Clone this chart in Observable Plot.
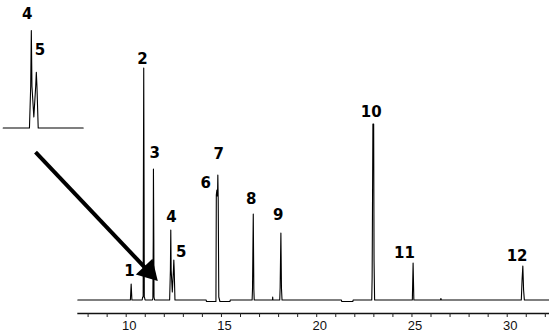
<!DOCTYPE html>
<html><head><meta charset="utf-8">
<script src="https://cdn.jsdelivr.net/npm/d3@7"></script>
<script src="https://cdn.jsdelivr.net/npm/@observablehq/plot@0.6"></script>
<style>
body{margin:0;background:#fff}
#wrap{position:relative;width:549px;height:335px;overflow:hidden;background:#fff}
#wrap svg{position:absolute;left:0;top:0}
</style></head><body><div id="wrap"></div>
<script>
// Chromatogram trace: retention time (min) and signal (arbitrary units)
const traceT = [7.46, 10.22, 10.26, 10.30, 10.84, 10.86, 10.89, 10.90, 10.92, 10.94, 10.95, 10.97, 10.99,
  11.38, 11.40, 11.42, 11.43, 11.45, 11.46, 11.49, 12.28, 12.32, 12.34, 12.36, 12.42, 12.48, 12.50, 12.52, 12.56,
  14.20, 14.21, 14.71, 14.73, 14.76, 14.78, 14.80, 14.81, 14.83, 14.86, 14.92, 15.45, 15.46,
  16.61, 16.63, 16.67, 16.70, 16.72, 17.68, 17.69, 17.70,
  18.06, 18.08, 18.12, 18.15, 18.18, 21.30, 21.31, 21.90, 21.91,
  22.89, 22.91, 22.95, 22.99, 23.01, 23.04, 25.02, 25.06, 25.10,
  26.50, 26.52, 26.54, 30.74, 30.78, 30.82, 30.86, 30.90, 32.30];
const traceV = [0, 0, 16, 0, 0, 3, 3, 95, 232, 95, 3, 2, 0,
  0, 2, 60, 131, 60, 3, 0, 0, 30, 70, 30, 8, 30, 40, 30, 0,
  0, -1.5, -1.5, 105, 110, 104, 112, 125, 100, 3, -1.5, -1.5, 0,
  0, 11, 86, 11, 0, 0, 3, 0,
  0, 12, 67, 12, 0, 0, -1.5, -1.5, 0,
  0, 23, 176, 176, 40, 0, 0, 37, 0,
  0, 1.5, 0, 0, 20, 34, 10, 0, 0];

// Peak numbers and where they are written
const peakLabels = ["1", "2", "3", "4", "5", "6", "7", "8", "9", "10", "11", "12"];
const labelT = [10.17, 10.85, 11.50, 12.38, 12.89, 14.18, 14.86, 16.56, 17.98, 22.86, 24.61, 30.52];
const labelV = [29, 241, 147, 83, 48, 117, 146, 101, 85, 188, 47, 44];

// Axis
const minorTicks = [8, 9, 10, 11, 12, 13, 14, 15, 16, 17, 18, 19, 20, 21, 22, 23, 24, 25, 26, 27, 28, 29, 30, 31, 32];
const tickLabels = [10, 15, 20, 25, 30];
const axisSpan = [7.46, 32.3];
const axisLevel = -13.5;   // signal units below baseline where the axis sits
const tickEnd = -17.5;
const tickLabelLevel = -26;

// Arrow from the inset to peaks 4/5
const arrowFrom = [5.24, 147.8];
const arrowTo = [11.18, 28.5];

// Inset (zoom on peaks 4 and 5)
const insetWindow = [11.44, 14.0];
const insetLabels = ["4", "5"];
const insetLabelT = [12.21, 12.62];
const insetLabelV = [82, 55.6];

const trace = traceT.map((t, i) => ({t, v: traceV[i]}));
const labels = peakLabels.map((s, i) => ({s, t: labelT[i], v: labelV[i]}));

const main = Plot.plot({
  width: 549, height: 335,
  marginLeft: 0, marginRight: 0, marginTop: 0, marginBottom: 0,
  x: {domain: [3.4016, 32.22], range: [0, 549], axis: null},
  y: {domain: [0, 232], range: [299.5, 67.5], axis: null},
  style: {background: "transparent", color: "#000"},
  marks: [
    Plot.ruleY([{y: axisLevel, x1: axisSpan[0], x2: axisSpan[1]}], {y: "y", x1: "x1", x2: "x2", stroke: "#111", strokeWidth: 1.3}),
    Plot.ruleX(minorTicks, {x: d => d, y1: axisLevel, y2: tickEnd, stroke: "#222", strokeWidth: 1}),
    Plot.text(tickLabels, {x: d => d, y: tickLabelLevel, text: d => String(d), dx: 3,
      fontFamily: "'Liberation Sans', Arial, sans-serif", fontSize: 13, fill: "#111"}),
    Plot.line(trace, {x: "t", y: "v", stroke: "#000", strokeWidth: 1.1}),
    Plot.text(labels, {x: "t", y: "v", text: "s", fontFamily: "'DejaVu Sans', sans-serif",
      fontWeight: "bold", fontSize: 15, fill: "#000"}),
    Plot.link([{x1: arrowFrom[0], y1: arrowFrom[1], x2: arrowTo[0], y2: arrowTo[1]}],
      {x1: "x1", y1: "y1", x2: "x2", y2: "y2", stroke: "#000", strokeWidth: 4}),
    Plot.dot([{x: arrowTo[0], y: arrowTo[1]}], {x: "x", y: "y", symbol: "triangle", r: 8.5,
      rotate: 136.5, fill: "#000", stroke: "none"})
  ]
});

const insetTrace = [{t: insetWindow[0], v: 0},
  ...trace.filter(d => d.t > 11.5 && d.t < insetWindow[1]),
  {t: insetWindow[1], v: 0}];
const insetText = insetLabels.map((s, i) => ({s, t: insetLabelT[i], v: insetLabelV[i]}));

const inset = Plot.plot({
  width: 90, height: 135,
  marginLeft: 0, marginRight: 0, marginTop: 0, marginBottom: 0,
  x: {domain: insetWindow, range: [2.7, 82.7], axis: null},
  y: {domain: [0, 70], range: [127.5, 30], axis: null},
  style: {background: "transparent"},
  marks: [
    Plot.line(insetTrace, {x: "t", y: "v", stroke: "#000", strokeWidth: 1.1}),
    Plot.text(insetText, {x: "t", y: "v", text: "s", fontFamily: "'DejaVu Sans', sans-serif",
      fontWeight: "bold", fontSize: 15, fill: "#000"})
  ]
});

const wrap = document.getElementById("wrap");
wrap.appendChild(main);
wrap.appendChild(inset);
</script>
</body></html>
